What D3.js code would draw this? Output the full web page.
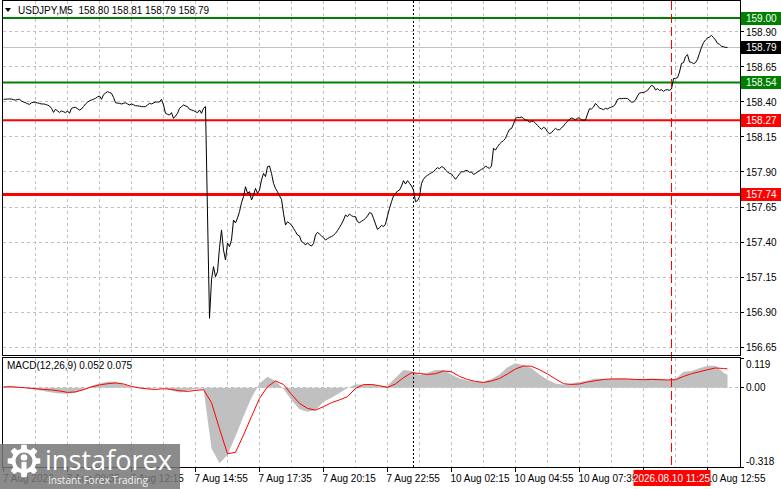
<!DOCTYPE html>
<html>
<head>
<meta charset="utf-8">
<script src="https://cdn.jsdelivr.net/npm/d3@7"></script>
<style>
    html, body { margin: 0; padding: 0; background: #fff; overflow: hidden; }
    svg { display: block; }
    text { font-family: "Liberation Sans", Arial, sans-serif; font-size: 10px; }
</style>
</head>
<body>
<script>
// USDJPY M5 closes, one value per bar (bar 0 = first bar on screen)
const closes = [
    158.419, 158.420, 158.421, 158.422, 158.421, 158.416, 158.414, 158.418, 158.419, 158.407,
    158.400, 158.395, 158.388, 158.383, 158.395, 158.398, 158.398, 158.393, 158.390, 158.386,
    158.386, 158.383, 158.378, 158.371, 158.355, 158.326, 158.348, 158.336, 158.326, 158.336,
    158.331, 158.324, 158.336, 158.319, 158.355, 158.360, 158.362, 158.352, 158.343, 158.350,
    158.368, 158.386, 158.398, 158.409, 158.414, 158.420, 158.426, 158.436, 158.443, 158.419,
    158.452, 158.464, 158.474, 158.468, 158.462, 158.433, 158.395, 158.392, 158.390, 158.386,
    158.390, 158.395, 158.386, 158.379, 158.386, 158.380, 158.374, 158.372, 158.371, 158.367,
    158.367, 158.367, 158.379, 158.390, 158.386, 158.393, 158.400, 158.400, 158.400, 158.419,
    158.379, 158.319, 158.312, 158.307, 158.324, 158.283, 158.300, 158.319, 158.355, 158.367,
    158.379, 158.372, 158.367, 158.348, 158.343, 158.338, 158.331, 158.324, 158.343, 158.319,
    158.355, 158.367, 157.600, 156.855, 157.130, 157.224, 157.152, 157.188, 157.360, 157.486,
    157.343, 157.272, 157.393, 157.367, 157.414, 157.557, 157.536, 157.571, 157.617, 157.680,
    157.724, 157.795, 157.748, 157.760, 157.700, 157.736, 157.783, 157.747, 157.771, 157.843,
    157.890, 157.867, 157.938, 157.943, 157.890, 157.819, 157.783, 157.759, 157.729, 157.705,
    157.605, 157.521, 157.545, 157.533, 157.521, 157.497, 157.474, 157.450, 157.443, 157.402,
    157.395, 157.378, 157.395, 157.378, 157.371, 157.390, 157.450, 157.469, 157.457, 157.443,
    157.431, 157.414, 157.424, 157.433, 157.438, 157.448, 157.462, 157.481, 157.505, 157.528,
    157.557, 157.593, 157.581, 157.600, 157.588, 157.581, 157.581, 157.545, 157.538, 157.548,
    157.557, 157.569, 157.586, 157.610, 157.605, 157.569, 157.528, 157.490, 157.502, 157.519,
    157.510, 157.528, 157.586, 157.640, 157.688, 157.729, 157.747, 157.764, 157.771, 157.800,
    157.838, 157.814, 157.838, 157.819, 157.800, 157.771, 157.688, 157.695, 157.724, 157.819,
    157.848, 157.867, 157.876, 157.886, 157.895, 157.902, 157.919, 157.931, 157.924, 157.938,
    157.933, 157.914, 157.900, 157.890, 157.886, 157.867, 157.848, 157.867, 157.886, 157.902,
    157.902, 157.910, 157.910, 157.898, 157.900, 157.883, 157.890, 157.900, 157.910, 157.919,
    157.926, 157.943, 157.933, 157.926, 157.943, 158.069, 158.057, 158.081, 158.100, 158.114,
    158.124, 158.140, 158.176, 158.205, 158.210, 158.243, 158.283, 158.290, 158.288, 158.293,
    158.283, 158.271, 158.271, 158.255, 158.262, 158.262, 158.248, 158.233, 158.217, 158.205,
    158.219, 158.212, 158.186, 158.174, 158.181, 158.198, 158.212, 158.202, 158.202, 158.214,
    158.229, 158.248, 158.262, 158.276, 158.286, 158.281, 158.271, 158.286, 158.286, 158.271,
    158.271, 158.271, 158.314, 158.352, 158.350, 158.364, 158.390, 158.374, 158.355, 158.352,
    158.345, 158.355, 158.350, 158.359, 158.364, 158.369, 158.386, 158.419, 158.424, 158.424,
    158.426, 158.426, 158.424, 158.414, 158.398, 158.402, 158.414, 158.443, 158.464, 158.467,
    158.467, 158.474, 158.483, 158.502, 158.519, 158.512, 158.486, 158.495, 158.483, 158.488,
    158.476, 158.486, 158.488, 158.483, 158.493, 158.567, 158.569, 158.574, 158.614, 158.676,
    158.681, 158.724, 158.738, 158.686, 158.683, 158.674, 158.681, 158.705, 158.748, 158.791,
    158.824, 158.843, 158.857, 158.864, 158.876, 158.860, 158.843, 158.819, 158.812, 158.798,
    158.795, 158.790, 158.790
];

// MACD(12,26,9) read every 4 bars, plus the last bar
const macdBars = d3.range(0, 361, 4).concat([362]);
const macdMain = [
    0.004, 0.005, 0.003, -0.003, -0.008, -0.013, -0.019, -0.023, -0.024, -0.019,
    -0.008, 0.008, 0.017, 0.024, 0.024, 0.013, 0.003, -0.003, -0.004, -0.001,
    0.001, -0.011, -0.019, -0.011, -0.005, -0.003, -0.243, -0.303, -0.270, -0.195,
    -0.115, -0.040, 0.017, 0.044, 0.027, -0.005, -0.049, -0.086, -0.096, -0.090,
    -0.056, -0.040, -0.021, -0.001, 0.013, 0.013, 0.013, 0.007, 0.008, 0.040,
    0.071, 0.067, 0.051, 0.060, 0.071, 0.071, 0.053, 0.037, 0.029, 0.024,
    0.024, 0.035, 0.053, 0.082, 0.098, 0.090, 0.078, 0.053, 0.032, 0.017,
    0.012, 0.017, 0.023, 0.028, 0.037, 0.035, 0.036, 0.037, 0.035, 0.035,
    0.035, 0.037, 0.036, 0.031, 0.035, 0.064, 0.067, 0.078, 0.088, 0.088,
    0.060, 0.052
];
const macdSignal = [
    0.003, 0.004, 0.001, -0.001, -0.004, -0.007, -0.009, -0.013, -0.019, -0.017,
    -0.008, 0.003, 0.011, 0.016, 0.019, 0.015, 0.005, -0.001, -0.005, -0.007,
    -0.004, -0.007, -0.012, -0.015, -0.011, -0.008, -0.060, -0.165, -0.265, -0.259,
    -0.190, -0.116, -0.043, 0.004, 0.027, 0.013, -0.027, -0.063, -0.083, -0.090,
    -0.076, -0.060, -0.049, -0.036, -0.003, 0.012, 0.013, 0.008, 0.001, 0.015,
    0.040, 0.060, 0.057, 0.053, 0.056, 0.067, 0.064, 0.045, 0.033, 0.025,
    0.021, 0.027, 0.037, 0.055, 0.075, 0.087, 0.086, 0.072, 0.055, 0.035,
    0.016, 0.013, 0.015, 0.023, 0.028, 0.033, 0.035, 0.035, 0.035, 0.033,
    0.032, 0.033, 0.032, 0.031, 0.032, 0.045, 0.056, 0.064, 0.072, 0.079,
    0.077, 0.075
];

const timeTickBars = [0, 32, 64, 96, 128, 160, 192, 224, 256, 288, 320, 352];
const timeLabels = ["7 Aug 2026", "7 Aug 09:35", "7 Aug 12:15", "7 Aug 14:55", "7 Aug 17:35",
    "7 Aug 20:15", "7 Aug 22:55", "10 Aug 02:15", "10 Aug 04:55", "10 Aug 07:35",
    "10 Aug 10:15", "10 Aug 12:55"];
const priceTicks = [158.90, 158.65, 158.40, 158.15, 157.90, 157.65, 157.40, 157.15, 156.90, 156.65];
const buyLevels = [159.00, 158.54];
const sellLevels = [158.27, 157.74];
const lastPrice = 158.79;
const ohlc = [158.80, 158.81, 158.79, 158.79];
const cursorBar = 334, cursorLabel = "2026.08.10 11:25";
const sessionBar = 204.9;
const macdLast = [0.052, 0.075];
const macdAxisTicks = [0.119, 0, -0.318];

const width = 781, height = 489;
const plotL = 3, plotR = 740;
const mainTop = 0.5, mainBot = 355.5, macdTop = 357.5, macdBot = 467.5;

const svg = d3.select("body").append("svg")
    .attr("width", width)
    .attr("height", height);

const x = d3.scaleLinear().domain([0, 368]).range([3.5, 739.5]);
const y = d3.scaleLinear().domain([157.65, 159.00]).range([207, 18]);
const ym = d3.scaleLinear().domain([-0.318, 0.119]).range([467, 358]);
const crisp = v => Math.round(v - 0.5) + 0.5;

// grid
const grid = svg.append("g")
    .attr("stroke", "#c0c0c0")
    .attr("stroke-dasharray", "3,3")
    .attr("shape-rendering", "crispEdges");

d3.range(16, 368, 16).forEach(b => {
    grid.append("line").attr("x1", x(b)).attr("x2", x(b)).attr("y1", mainTop).attr("y2", mainBot);
    grid.append("line").attr("x1", x(b)).attr("x2", x(b)).attr("y1", macdTop).attr("y2", macdBot);
});
priceTicks.forEach(p => {
    grid.append("line").attr("x1", plotL).attr("x2", plotR)
        .attr("y1", crisp(y(p))).attr("y2", crisp(y(p)));
});
grid.append("line").attr("x1", plotL).attr("x2", plotR)
    .attr("y1", crisp(ym(0))).attr("y2", crisp(ym(0)));

// last price line
svg.append("line")
    .attr("x1", plotL).attr("x2", plotR)
    .attr("y1", crisp(y(lastPrice))).attr("y2", crisp(y(lastPrice)))
    .attr("stroke", "#c0c0c0")
    .attr("shape-rendering", "crispEdges");

// MACD histogram + signal
const hist = macdBars.map((b, i) => ({ b: b, v: macdMain[i] }));
svg.append("path")
    .datum(hist)
    .attr("fill", "#c0c0c0")
    .attr("d", d3.area().x(d => x(d.b)).y0(ym(0)).y1(d => ym(d.v)));

svg.append("path")
    .datum(macdBars.map((b, i) => ({ b: b, v: macdSignal[i] })))
    .attr("fill", "none")
    .attr("stroke", "#ff0000")
    .attr("stroke-width", 1)
    .attr("d", d3.line().x(d => x(d.b)).y(d => ym(d.v)));

// support / resistance levels
buyLevels.forEach(p => {
    svg.append("line").attr("x1", plotL).attr("x2", plotR)
        .attr("y1", y(p)).attr("y2", y(p))
        .attr("stroke", "#008000").attr("stroke-width", 2);
});
sellLevels.forEach((p, i) => {
    svg.append("line").attr("x1", plotL).attr("x2", plotR)
        .attr("y1", y(p)).attr("y2", y(p))
        .attr("stroke", "#ff0000").attr("stroke-width", i === 1 ? 3 : 2);
});

// price line
svg.append("path")
    .datum(closes)
    .attr("fill", "none")
    .attr("stroke", "#000")
    .attr("stroke-width", 1)
    .attr("d", d3.line().x((d, i) => x(i)).y(d => y(d)));

// vertical markers
svg.append("line")
    .attr("x1", crisp(x(sessionBar))).attr("x2", crisp(x(sessionBar)))
    .attr("y1", mainTop).attr("y2", macdBot)
    .attr("stroke", "#000").attr("stroke-dasharray", "2,2")
    .attr("shape-rendering", "crispEdges");
svg.append("line")
    .attr("x1", x(cursorBar)).attr("x2", x(cursorBar))
    .attr("y1", mainTop).attr("y2", macdBot)
    .attr("stroke", "#ff0000").attr("stroke-dasharray", "9,4")
    .attr("shape-rendering", "crispEdges");

// panel borders
[[mainTop, mainBot], [macdTop, macdBot]].forEach(([t, b]) => {
    svg.append("rect")
        .attr("x", 2.5).attr("y", t)
        .attr("width", plotR + 0.5 - 2.5).attr("height", b - t)
        .attr("fill", "none").attr("stroke", "#000")
        .attr("shape-rendering", "crispEdges");
});

// right price axis
const axis = svg.append("g");
priceTicks.forEach(p => {
    axis.append("line").attr("x1", plotR).attr("x2", plotR + 4)
        .attr("y1", crisp(y(p))).attr("y2", crisp(y(p)))
        .attr("stroke", "#000").attr("shape-rendering", "crispEdges");
    axis.append("text").attr("x", 746).attr("y", y(p) + 3.5).text(p.toFixed(2));
});

function priceBox(p, fill) {
    axis.append("rect")
        .attr("x", 741).attr("y", Math.round(y(p)) - 6)
        .attr("width", 40).attr("height", 13)
        .attr("fill", fill);
    axis.append("text").attr("x", 746).attr("y", y(p) + 4)
        .attr("fill", "#fff").text(p.toFixed(2));
}
buyLevels.forEach(p => priceBox(p, "#008000"));
sellLevels.forEach(p => priceBox(p, "#ff0000"));
priceBox(lastPrice, "#000");

// MACD axis
macdAxisTicks.forEach((v, i) => {
    const off = i === 0 ? 6 : (i === 2 ? -6 : 0);
    axis.append("line").attr("x1", plotR).attr("x2", plotR + 4)
        .attr("y1", crisp(ym(v))).attr("y2", crisp(ym(v)))
        .attr("stroke", "#000").attr("shape-rendering", "crispEdges");
    axis.append("text").attr("x", 746).attr("y", ym(v) + off + 3.5)
        .text(v === 0 ? "0.00" : v.toFixed(3));
});

// time axis
timeTickBars.forEach((b, i) => {
    axis.append("line").attr("x1", crisp(x(b))).attr("x2", crisp(x(b)))
        .attr("y1", macdBot).attr("y2", macdBot + 4)
        .attr("stroke", "#000").attr("shape-rendering", "crispEdges");
    axis.append("text").attr("x", Math.max(x(b) - 1, 3)).attr("y", 482).text(timeLabels[i]);
});
axis.append("rect")
    .attr("x", x(cursorBar) - 38).attr("y", 470)
    .attr("width", 77).attr("height", 16)
    .attr("fill", "#ff0000");
axis.append("text")
    .attr("x", x(cursorBar)).attr("y", 482)
    .attr("text-anchor", "middle").attr("fill", "#fff")
    .text(cursorLabel);

// headers
svg.append("path").attr("d", "M5,8 L11,8 L8,12 Z").attr("fill", "#000");
svg.append("text").attr("x", 18).attr("y", 14)
    .attr("xml:space", "preserve")
    .text("USDJPY,M5  " + ohlc.map(v => v.toFixed(2)).join(" "));
svg.append("text").attr("x", 7).attr("y", 369)
    .text("MACD(12,26,9) " + macdLast[0].toFixed(3) + " " + macdLast[1].toFixed(3));

// watermark
const wm = svg.append("g");
wm.append("rect").attr("x", 0).attr("y", 444).attr("width", 180).attr("height", 45)
    .attr("fill", "#777").attr("opacity", 0.85);
const gear = [];
const nT = 8, s = 2 * Math.PI / nT;
for (let k = 0; k < nT; k++) {
    const a0 = k * s;
    gear.push([a0 - s * 0.2, 16.5], [a0 + s * 0.2, 16.5], [a0 + s * 0.32, 12.5], [a0 + s * 0.68, 12.5]);
}
const g = wm.append("g").attr("transform", "translate(24,461)");
g.append("path").attr("d", d3.lineRadial().curve(d3.curveLinearClosed)(gear)).attr("fill", "#fff");
g.append("circle").attr("r", 8.5).attr("fill", "#8a8a8a");
g.append("circle").attr("cy", -3.5).attr("r", 3.3).attr("fill", "#fff");
g.append("rect").attr("x", -2.5).attr("y", 1).attr("width", 5).attr("height", 12).attr("fill", "#fff");
wm.append("text").attr("x", 45).attr("y", 470)
    .attr("fill", "#fff")
    .attr("textLength", 127).attr("lengthAdjust", "spacingAndGlyphs")
    .style("font-family", "'Open Sans', sans-serif").style("font-size", "27px")
    .text("instaforex");
wm.append("text").attr("x", 48).attr("y", 484)
    .attr("fill", "#f0f0f0")
    .attr("textLength", 100).attr("lengthAdjust", "spacingAndGlyphs")
    .style("font-family", "'Open Sans', sans-serif").style("font-size", "10px")
    .text("Instant Forex Trading");
</script>
</body>
</html>
